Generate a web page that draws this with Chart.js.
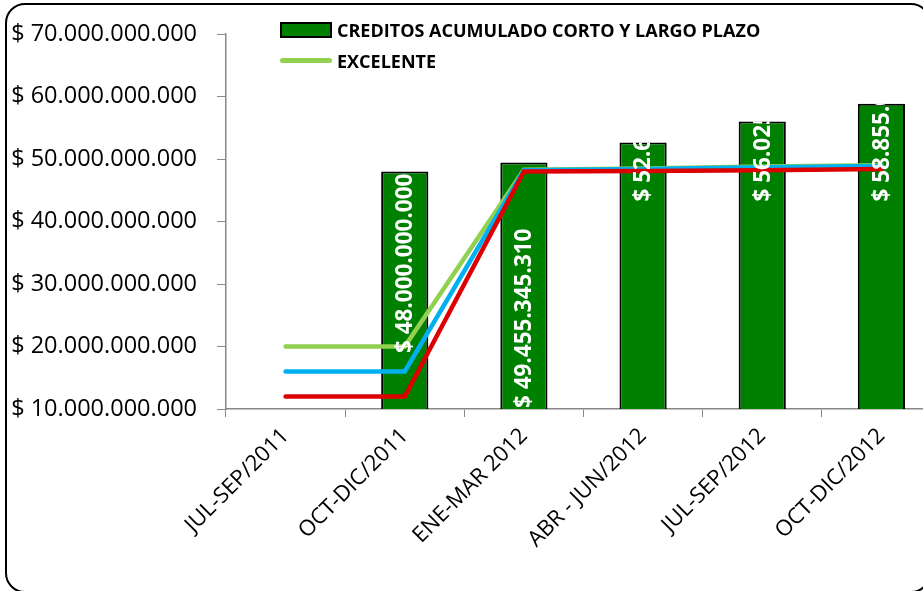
<!DOCTYPE html>
<html>
<head>
<meta charset="utf-8">
<script src="https://cdn.jsdelivr.net/npm/chart.js@4.4.0/dist/chart.umd.min.js"></script>
<style>
    html, body { margin: 0; padding: 0; width: 923px; height: 591px; overflow: hidden; background: #fff; }
    #wrap { position: relative; width: 923px; height: 591px; overflow: hidden; }
    #chartBox { position: absolute; left: 0; top: 0; width: 960px; height: 591px; }
    #frame {
        position: absolute; left: 5px; top: 3px; width: 922px; height: 586px;
        border: 2.5px solid #000; border-radius: 20px; pointer-events: none;
    }
    .legend { position: absolute; left: 280px; top: 14px; font-family: "Open Sans", sans-serif; font-weight: bold; font-size: 18px; color: #000; }
    .legend .row { display: flex; align-items: center; height: 31px; }
    .legend .box { width: 48px; height: 12px; background: #008000; border: 2px solid #000; margin-right: 5px; }
    .legend .line { width: 52px; height: 4.5px; background: #92D050; border-radius: 3px; margin-right: 5px; }
</style>
</head>
<body>
<div id="wrap">
    <div id="chartBox"><canvas id="chart" width="960" height="591"></canvas></div>
    <div class="legend">
        <div class="row"><span class="box"></span><span>CREDITOS ACUMULADO CORTO Y LARGO PLAZO</span></div>
        <div class="row"><span class="line"></span><span>EXCELENTE</span></div>
    </div>
    <div id="frame"></div>
</div>
<script>
// Chart data
const periods = ["JUL-SEP/2011", "OCT-DIC/2011", "ENE-MAR 2012", "ABR - JUN/2012", "JUL-SEP/2012", "OCT-DIC/2012"];
const creditos = [null, 48000000000, 49455345310, 52640000000, 56025000000, 58855000000];
const excelente = [20000000000, 20000000000, 48300000000, 48500000000, 48800000000, 49000000000];
const bueno = [16000000000, 16000000000, 48200000000, 48400000000, 48700000000, 48900000000];
const minimo = [12000000000, 12000000000, 48000000000, 48100000000, 48200000000, 48400000000];
const yTicks = [10000000000, 70000000000, 10000000000]; // min, max, step

// label placement inside each bar: under the top, from the base, or from a fixed level
const LABEL_ANCHOR = [null, "top", "base", "fixed", "fixed", "fixed"];
const LABEL_FIXED_VALUE = 43200000000;
const LABEL_FONT = 'bold 22.5px "Open Sans"';

// "$ 48.000.000.000" style formatting
const money = (v) => "$ " + String(Math.round(v)).replace(/\B(?=(\d{3})+(?!\d))/g, ".");

/**
 * Draws the white, vertical value labels inside the bars (clipped to each bar).
 */
const barLabels = {
    id: "barLabels",
    afterDatasetsDraw(chart) {
        const ctx = chart.ctx;
        const yScale = chart.scales.y;
        const bottom = chart.chartArea.bottom;
        const barIndex = chart.data.datasets.findIndex(d => d.type === "bar");
        const meta = chart.getDatasetMeta(barIndex);
        meta.data.forEach((bar, i) => {
            const v = creditos[i];
            if (v == null) return;
            const text = money(v);
            const base = Math.min(bar.base, bottom); // bars start at 0, below the axis
            ctx.save();
            ctx.beginPath();
            ctx.rect(bar.x - bar.width / 2, bar.y, bar.width, base - bar.y);
            ctx.clip();
            ctx.font = LABEL_FONT;
            ctx.fillStyle = "#fff";
            ctx.textBaseline = "middle";
            ctx.textAlign = "left";
            const w = ctx.measureText(text).width;
            let start;
            const mode = LABEL_ANCHOR[i];
            if (mode === "top") start = bar.y + 2 + w;
            else if (mode === "base") start = base - 1;
            else start = yScale.getPixelForValue(LABEL_FIXED_VALUE);
            ctx.translate(bar.x + 1, start);
            ctx.rotate(-Math.PI / 2);
            ctx.fillText(text, 0, 0);
            ctx.restore();
        });
    }
};

const ctx = document.getElementById("chart").getContext("2d");

new Chart(ctx, {
    type: "bar",
    data: {
        labels: periods,
        datasets: [
            {
                type: "line", label: "MINIMO", data: minimo, order: 1,
                borderColor: "#DD0000", borderWidth: 4.5, pointRadius: 0, tension: 0,
                borderCapStyle: "round", borderJoinStyle: "miter"
            },
            {
                type: "line", label: "BUENO", data: bueno, order: 2,
                borderColor: "#00B0F0", borderWidth: 4.5, pointRadius: 0, tension: 0,
                borderCapStyle: "round", borderJoinStyle: "miter"
            },
            {
                type: "line", label: "EXCELENTE", data: excelente, order: 3,
                borderColor: "#92D050", borderWidth: 4.5, pointRadius: 0, tension: 0,
                borderCapStyle: "round", borderJoinStyle: "miter"
            },
            {
                type: "bar", label: "CREDITOS ACUMULADO CORTO Y LARGO PLAZO", data: creditos, order: 10,
                backgroundColor: "#008000", borderColor: "#000", borderWidth: 2,
                borderSkipped: false, barPercentage: 0.45, categoryPercentage: 0.88
            }
        ]
    },
    options: {
        responsive: false,
        animation: false,
        devicePixelRatio: 1,
        layout: { padding: { left: 0, top: 32, right: 19, bottom: 0 } },
        plugins: {
            legend: { display: false },
            tooltip: { enabled: false }
        },
        scales: {
            x: {
                offset: true,
                grid: { offset: true, drawOnChartArea: false, color: "#888", tickLength: 8 },
                border: { color: "#888", width: 1.5 },
                ticks: {
                    color: "#000", minRotation: 45, maxRotation: 45, padding: 6,
                    font: { family: "Open Sans", size: 22 }
                },
                afterFit: (scale) => { scale.height = 182; }
            },
            y: {
                min: yTicks[0], max: yTicks[1],
                grid: { drawOnChartArea: false, color: "#888", tickLength: 9 },
                border: { color: "#888", width: 1.5 },
                ticks: {
                    stepSize: yTicks[2], color: "#000", padding: 20,
                    font: { family: "Open Sans", size: 23.5 },
                    callback: (v) => money(v)
                },
                afterFit: (scale) => { scale.width = 226; }
            }
        }
    },
    plugins: [barLabels]
});
</script>
</body>
</html>
